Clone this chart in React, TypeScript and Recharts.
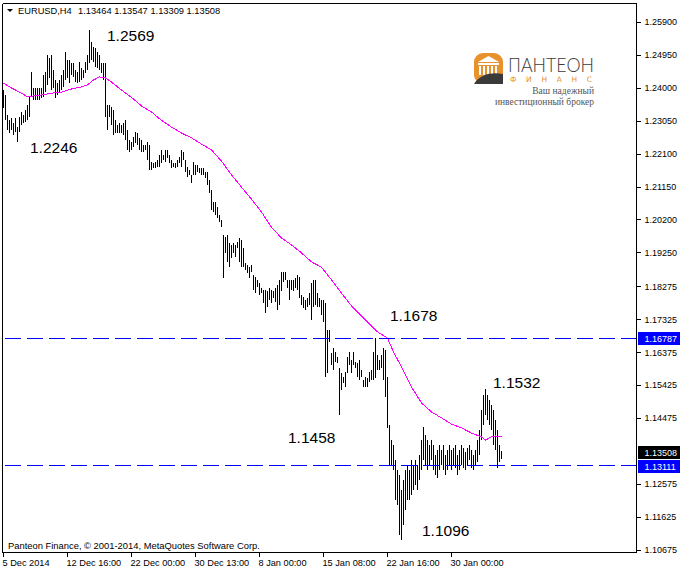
import React from "react";
import {
  ComposedChart, Bar, Line, XAxis, YAxis, ReferenceLine, ReferenceDot,
} from "recharts";

// EURUSD H4 bars, highs and lows (bar 0 = leftmost)
const highs = [
  1.2395, 1.2381, 1.2323, 1.2309, 1.2314, 1.2300, 1.2314, 1.2288, 1.2317, 1.2332,
  1.2323, 1.2337, 1.2352, 1.2375, 1.2447, 1.2401, 1.2401, 1.2401, 1.2401, 1.2401,
  1.2438, 1.2447, 1.2496, 1.2488, 1.2496, 1.2453, 1.2424, 1.2415, 1.2424, 1.2438,
  1.2453, 1.2505, 1.2482, 1.2482, 1.2473, 1.2473, 1.2453, 1.2447, 1.2476, 1.2459,
  1.2453, 1.2476, 1.2496, 1.2569, 1.2534, 1.2519, 1.2516, 1.2505, 1.2496, 1.2473,
  1.2473, 1.2473, 1.2352, 1.2352, 1.2346, 1.2337, 1.2309, 1.2294, 1.2300, 1.2294,
  1.2300, 1.2309, 1.2280, 1.2251, 1.2245, 1.2260, 1.2274, 1.2271, 1.2257, 1.2251,
  1.2236, 1.2236, 1.2245, 1.2236, 1.2187, 1.2184, 1.2187, 1.2193, 1.2208, 1.2222,
  1.2208, 1.2222, 1.2222, 1.2208, 1.2193, 1.2184, 1.2184, 1.2193, 1.2202, 1.2222,
  1.2216, 1.2193, 1.2173, 1.2164, 1.2150, 1.2187, 1.2179, 1.2179, 1.2170, 1.2170,
  1.2170, 1.2159, 1.2159, 1.2135, 1.2107, 1.2072, 1.2072, 1.2058, 1.2034, 1.2020,
  1.1977, 1.1971, 1.1977, 1.1954, 1.1948, 1.1954, 1.1948, 1.1957, 1.1968, 1.1962,
  1.1939, 1.1896, 1.1890, 1.1884, 1.1890, 1.1861, 1.1856, 1.1847, 1.1838, 1.1824,
  1.1818, 1.1818, 1.1815, 1.1824, 1.1818, 1.1815, 1.1824, 1.1832, 1.1847, 1.1870,
  1.1870, 1.1870, 1.1847, 1.1847, 1.1847, 1.1847, 1.1853, 1.1861, 1.1856, 1.1804,
  1.1798, 1.1789, 1.1795, 1.1809, 1.1838, 1.1847, 1.1847, 1.1809, 1.1795, 1.1789,
  1.1789, 1.1780, 1.1703, 1.1703, 1.1636, 1.1651, 1.1639, 1.1625, 1.1593, 1.1578,
  1.1567, 1.1581, 1.1625, 1.1639, 1.1616, 1.1639, 1.1610, 1.1607, 1.1616, 1.1587,
  1.1558, 1.1567, 1.1564, 1.1581, 1.1587, 1.1639, 1.1678, 1.1630, 1.1616, 1.1630,
  1.1651, 1.1645, 1.1567, 1.1428, 1.1385, 1.1371, 1.1327, 1.1299, 1.1284, 1.1241,
  1.1270, 1.1299, 1.1313, 1.1299, 1.1327, 1.1313, 1.1327, 1.1313, 1.1342, 1.1385,
  1.1423, 1.1400, 1.1385, 1.1371, 1.1385, 1.1371, 1.1342, 1.1356, 1.1371, 1.1356,
  1.1371, 1.1342, 1.1356, 1.1371, 1.1356, 1.1362, 1.1371, 1.1342, 1.1356, 1.1371,
  1.1362, 1.1350, 1.1362, 1.1371, 1.1356, 1.1342, 1.1356, 1.1385, 1.1414, 1.1472,
  1.1515, 1.1532, 1.1515, 1.1501, 1.1486, 1.1472, 1.1443, 1.1414, 1.1371, 1.13547,
];

const lows = [
  1.2343, 1.2309, 1.2280, 1.2271, 1.2280, 1.2265, 1.2274, 1.2246, 1.2274, 1.2294,
  1.2300, 1.2303, 1.2309, 1.2317, 1.2375, 1.2366, 1.2366, 1.2366, 1.2366, 1.2372,
  1.2375, 1.2389, 1.2410, 1.2430, 1.2395, 1.2401, 1.2372, 1.2381, 1.2386, 1.2395,
  1.2404, 1.2424, 1.2430, 1.2415, 1.2438, 1.2433, 1.2418, 1.2415, 1.2418, 1.2424,
  1.2430, 1.2444, 1.2453, 1.2473, 1.2482, 1.2476, 1.2462, 1.2459, 1.2453, 1.2444,
  1.2424, 1.2317, 1.2280, 1.2317, 1.2294, 1.2265, 1.2271, 1.2271, 1.2271, 1.2271,
  1.2265, 1.2251, 1.2222, 1.2216, 1.2222, 1.2231, 1.2242, 1.2236, 1.2222, 1.2216,
  1.2216, 1.2222, 1.2193, 1.2164, 1.2164, 1.2170, 1.2170, 1.2173, 1.2173, 1.2184,
  1.2193, 1.2187, 1.2199, 1.2184, 1.2170, 1.2173, 1.2170, 1.2173, 1.2184, 1.2173,
  1.2193, 1.2159, 1.2144, 1.2150, 1.2127, 1.2150, 1.2150, 1.2159, 1.2156, 1.2150,
  1.2150, 1.2141, 1.2121, 1.2098, 1.2049, 1.2043, 1.2034, 1.2026, 1.2014, 1.2000,
  1.1853, 1.1925, 1.1899, 1.1884, 1.1910, 1.1925, 1.1913, 1.1939, 1.1899, 1.1884,
  1.1884, 1.1876, 1.1867, 1.1853, 1.1870, 1.1818, 1.1809, 1.1827, 1.1804, 1.1809,
  1.1780, 1.1752, 1.1769, 1.1789, 1.1780, 1.1795, 1.1783, 1.1760, 1.1775, 1.1815,
  1.1841, 1.1847, 1.1824, 1.1789, 1.1818, 1.1815, 1.1824, 1.1818, 1.1795, 1.1775,
  1.1766, 1.1760, 1.1769, 1.1775, 1.1731, 1.1769, 1.1775, 1.1769, 1.1769, 1.1746,
  1.1726, 1.1567, 1.1578, 1.1668, 1.1601, 1.1587, 1.1610, 1.1607, 1.1458, 1.1529,
  1.1550, 1.1538, 1.1578, 1.1601, 1.1578, 1.1601, 1.1593, 1.1567, 1.1558, 1.1567,
  1.1538, 1.1538, 1.1538, 1.1552, 1.1558, 1.1558, 1.1564, 1.1587, 1.1587, 1.1593,
  1.1558, 1.1509, 1.1420, 1.1313, 1.1313, 1.1299, 1.1212, 1.1198, 1.1111, 1.1096,
  1.1140, 1.1183, 1.1212, 1.1212, 1.1226, 1.1241, 1.1255, 1.1241, 1.1270, 1.1299,
  1.1327, 1.1313, 1.1299, 1.1313, 1.1327, 1.1299, 1.1284, 1.1275, 1.1299, 1.1313,
  1.1299, 1.1284, 1.1299, 1.1313, 1.1299, 1.1313, 1.1304, 1.1284, 1.1299, 1.1313,
  1.1304, 1.1299, 1.1313, 1.1327, 1.1304, 1.1299, 1.1313, 1.1322, 1.1342, 1.1385,
  1.1428, 1.1457, 1.1443, 1.1428, 1.1414, 1.1371, 1.1356, 1.1304, 1.1322, 1.13309,
];

// moving average (magenta), read at these bars
const maIdx = [
  0, 4, 9, 12, 15, 19, 24, 29, 34, 39, 42, 45, 48, 51, 54, 59, 65, 69, 74, 78,
  84, 89, 94, 99, 104, 109, 114, 119, 124, 129, 134, 139, 144, 149, 154, 159, 164, 169, 174, 179,
  184, 187, 192, 195, 199, 204, 209, 214, 219, 224, 229, 234, 239, 241, 244, 246, 249,
];
const maVal = [
  1.2415, 1.2401, 1.2386, 1.2375, 1.2378, 1.2381, 1.2386, 1.2389, 1.2398, 1.2404,
  1.2410, 1.2424, 1.2433, 1.2430, 1.2418, 1.2395, 1.2369, 1.2349, 1.2332, 1.2312,
  1.2288, 1.2271, 1.2257, 1.2239, 1.2222, 1.2190, 1.2150, 1.2115, 1.2080, 1.2043,
  1.1999, 1.1968, 1.1948, 1.1925, 1.1899, 1.1884, 1.1847, 1.1809, 1.1772, 1.1743,
  1.1714, 1.1697, 1.1679, 1.1639, 1.1596, 1.1538, 1.1492, 1.1466, 1.1449, 1.1431,
  1.1420, 1.1405, 1.1394, 1.1385, 1.1394, 1.1397, 1.1394,
];

const dateTickIdx = [0, 32, 64, 96, 128, 160, 192, 224];
const dateTickLabels = [
  "5 Dec 2014", "12 Dec 16:00", "22 Dec 00:00", "30 Dec 13:00",
  "8 Jan 00:00", "15 Jan 08:00", "22 Jan 16:00", "30 Jan 00:00",
];

const priceTicks = [
  1.259, 1.2495, 1.24, 1.2305, 1.221, 1.2115, 1.202, 1.1925, 1.18275,
  1.17325, 1.16375, 1.15425, 1.14475, 1.12575, 1.11625, 1.10675,
];

const levels = [1.16787, 1.13111];
const lastOHLC = [1.13464, 1.13547, 1.13309, 1.13508];

const noteText = ["1.2569", "1.2246", "1.1678", "1.1458", "1.1532", "1.1096"];
const noteIdx = [43, 7, 186, 168, 241, 199];
const noteVal = [1.2569, 1.2246, 1.1678, 1.1458, 1.1532, 1.1096];
const noteShift = [[17.5, 11], [12.5, 11.5], [14.5, -17], [-51.5, 28], [7.5, -1.5], [20.5, -4.5]];

const FONT = "Tahoma, 'Liberation Sans', Arial, sans-serif";
const W = 680;
const H = 571;

const data = highs.map((h, i) => {
  const m = maIdx.indexOf(i);
  return { i, range: [lows[i], h], ma: m >= 0 ? maVal[m] : null };
});

function DateTick(props: any) {
  const { x, y, payload } = props;
  const label = dateTickLabels[dateTickIdx.indexOf(payload.value)];
  return (
    <g>
      <line x1={x} y1={y} x2={x} y2={y + 4} stroke="#000" shapeRendering="crispEdges" />
      <text x={x - 1} y={y + 13} fontSize={9.2} fontFamily={FONT} fill="#000">{label}</text>
    </g>
  );
}

function PriceTick(props: any) {
  const { x, y, payload } = props;
  return (
    <g>
      <line x1={x} y1={y} x2={x + 4} y2={y} stroke="#000" shapeRendering="crispEdges" />
      <text x={x + 8} y={y + 3} fontSize={9} fontFamily={FONT} fill="#000">
        {Number(payload.value).toFixed(5)}
      </text>
    </g>
  );
}

const priceTag = (text: string, bg: string) => (props: any) => {
  const vb = props.viewBox || {};
  const x = (vb.x ?? 0) + (vb.width ?? 0);
  const y = vb.y ?? 0;
  return (
    <g>
      <rect x={x + 1.5} y={Math.round(y) - 6} width={43} height={13} fill={bg} />
      <text x={x + 8} y={Math.round(y) + 3.5} fontSize={9} fontFamily={FONT} fill="#fff">{text}</text>
    </g>
  );
};

function BarShape(props: any) {
  const { x, y, width, height } = props;
  return <rect x={x} y={y} width={width} height={Math.max(height, 1)} fill="#000" shapeRendering="crispEdges" />;
}

function Logo() {
  return (
    <g>
      <rect x={474} y={53} width={29} height={31} rx={9} fill="#e8922e" />
      <polygon points="478,62 488.5,56 499,62" fill="#fff" />
      <rect x={478} y={63} width={21} height={2} fill="#fff" />
      {[479, 483, 487, 491, 495].map((cx) => (
        <rect key={cx} x={cx} y={66} width={2} height={9} fill="#fff" />
      ))}
      <path d="M474,84 C480,74 492,72 503,74 L503,84 Z" fill="#3a3a3a" />
      <text x={508} y={72} fontSize={20} fontFamily="Lato, 'Open Sans', sans-serif" fontWeight={300}
        fill="#3c3c3c" textLength={86} lengthAdjust="spacingAndGlyphs">ПАНТЕОН</text>
      <text x={510} y={82} fontSize={7.5} fontFamily="'DejaVu Sans', sans-serif" fill="#e8922e"
        textLength={82} lengthAdjust="spacing">ФИНАНС</text>
      <text x={594} y={94} fontSize={9.5} fontFamily="'Liberation Serif', 'DejaVu Serif', serif" fill="#555"
        textAnchor="end">Ваш надежный</text>
      <text x={594} y={105} fontSize={9.5} fontFamily="'Liberation Serif', 'DejaVu Serif', serif" fill="#555"
        textAnchor="end">инвестиционный брокер</text>
    </g>
  );
}

export default function App() {
  return (
    <div style={{ position: "relative", width: W, height: H, background: "#fff" }}>
      <style>{"body{margin:0;background:#fff}"}</style>
      <ComposedChart
        width={W}
        height={H}
        data={data}
        margin={{ top: 3.5, right: 0, bottom: 0, left: 2.5 }}
      >
        <XAxis
          dataKey="i"
          type="number"
          domain={[-0.5, 316.5]}
          ticks={dateTickIdx}
          interval={0}
          height={18.5}
          tickSize={0}
          tickMargin={0}
          tickLine={false}
          axisLine={{ stroke: "#000", shapeRendering: "crispEdges" }}
          tick={<DateTick />}
          allowDataOverflow
        />
        <YAxis
          orientation="right"
          type="number"
          domain={[1.10604, 1.26448]}
          ticks={priceTicks}
          interval={0}
          width={43.5}
          tickSize={0}
          tickMargin={0}
          tickLine={false}
          axisLine={{ stroke: "#000", shapeRendering: "crispEdges" }}
          tick={<PriceTick />}
          allowDataOverflow
        />
        <ReferenceLine y={1.26448} stroke="#000" shapeRendering="crispEdges" ifOverflow="visible" />
        <ReferenceLine x={-0.5} stroke="#000" shapeRendering="crispEdges" ifOverflow="visible" />
        <Bar dataKey="range" barSize={1} shape={<BarShape />} isAnimationActive={false} />
        <Line
          dataKey="ma"
          type="linear"
          stroke="#ff00ff"
          strokeWidth={1}
          dot={false}
          connectNulls
          shapeRendering="crispEdges"
          isAnimationActive={false}
        />
        {levels.map((v) => (
          <ReferenceLine
            key={v}
            y={v}
            stroke="#0000ff"
            strokeDasharray="16 6"
            shapeRendering="crispEdges"
            label={priceTag(v.toFixed(5), "#0000ff")}
          />
        ))}
        <ReferenceLine y={lastOHLC[3]} stroke="none" label={priceTag(lastOHLC[3].toFixed(5), "#000")} />
        {noteText.map((t, j) => (
          <ReferenceDot
            key={t}
            x={noteIdx[j]}
            y={noteVal[j]}
            r={0}
            shape={(p: any) => (
              <text x={p.cx + noteShift[j][0]} y={p.cy + noteShift[j][1]} fontSize={15.5}
                fontFamily="'Liberation Sans', Arial, sans-serif" fill="#000">{t}</text>
            )}
          />
        ))}
      </ComposedChart>
      <svg width={W} height={H} style={{ position: "absolute", left: 0, top: 0, pointerEvents: "none" }}>
        <polygon points="7,9 13,9 10,12" fill="#000" />
        <text x={18} y={14} fontSize={9.3} fontFamily={FONT} fill="#000">EURUSD,H4</text>
        <text x={78} y={14} fontSize={9.3} fontFamily={FONT} fill="#000">
          {lastOHLC.map((v) => v.toFixed(5)).join(" ")}
        </text>
        <text x={8} y={549} fontSize={9.4} fontFamily={FONT} fill="#000">
          Panteon Finance, © 2001-2014, MetaQuotes Software Corp.
        </text>
        <Logo />
      </svg>
    </div>
  );
}
